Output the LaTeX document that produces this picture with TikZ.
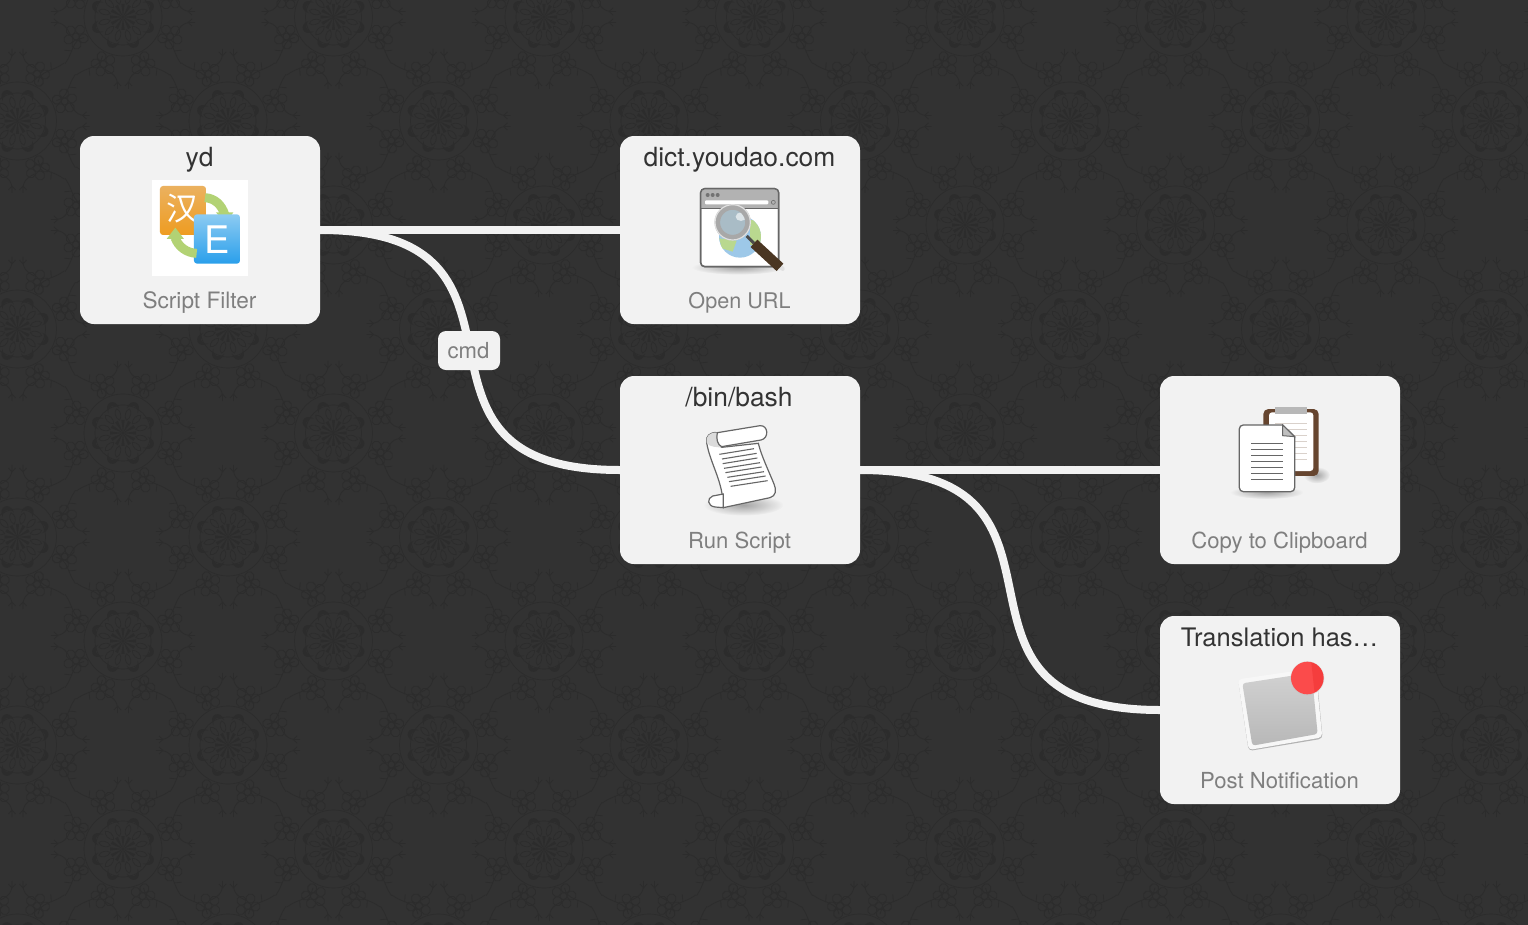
\documentclass[tikz,border=0pt]{standalone}
\usepackage{fontspec}
\setmainfont{TeX Gyre Heros}
\newfontfamily\cjkfont{Noto Sans CJK SC}
\usetikzlibrary{fadings,calc,patterns}
\definecolor{bgdark}{HTML}{323232}
\definecolor{ornament}{HTML}{2C2C2C}
\definecolor{cardfill}{HTML}{F2F2F2}
\definecolor{titletext}{HTML}{333333}
\definecolor{subtext}{HTML}{7F7F7F}
\definecolor{iconline}{HTML}{666666}
\definecolor{leafgreen}{HTML}{B2D274}
\definecolor{boardbrown}{HTML}{66452F}
\definecolor{alertred}{HTML}{FB4B4B}
\newcommand\PP[2]{\pgfpoint{#1pt}{#2pt}}
\newcommand\medalart{%
  \foreach \a in {0,30,...,330}{%
    \begin{pgfscope}\pgftransformrotate{\a}%
      \pgfpathmoveto{\PP{0}{0}}\pgfpathlineto{\PP{13}{1.6}}\pgfpathlineto{\PP{13}{-1.6}}\pgfpathclose\pgfusepath{fill}%
      \pgftransformrotate{15}\pgfsetlinewidth{0.7pt}%
      \pgfpathmoveto{\PP{13}{0}}\pgfpathcurveto{\PP{17}{4}}{\PP{23}{3}}{\PP{25}{0}}\pgfpathcurveto{\PP{23}{-3}}{\PP{17}{-4}}{\PP{13}{0}}\pgfusepath{stroke}%
    \end{pgfscope}}%
  \pgfsetlinewidth{0.7pt}%
  \pgfpathcircle{\PP{0}{0}}{28pt}\pgfusepath{stroke}%
  \pgfpathcircle{\PP{0}{0}}{39pt}\pgfusepath{stroke}%
  \pgfsetlinewidth{0.8pt}%
  \foreach \a in {22.5,67.5,...,337.5}{%
    \begin{pgfscope}\pgftransformrotate{\a}%
      \pgfpathmoveto{\PP{24}{-6}}\pgfpathcurveto{\PP{31}{-4}}{\PP{31}{4}}{\PP{24}{6}}\pgfpathcurveto{\PP{36}{7}}{\PP{36}{-7}}{\PP{24}{-6}}\pgfusepath{fill}%
      \pgftransformshift{\PP{51}{0}}%
      \pgfpathcircle{\PP{0}{0}}{3.5pt}\pgfusepath{stroke}%
      \foreach \b in {0,72,...,288}{%
        \pgfpathcircle{\pgfpointpolar{\b}{8pt}}{4.6pt}\pgfusepath{stroke}}%
    \end{pgfscope}}%
  \foreach \a in {0,90,180,270}{\foreach \sg in {1,-1}{%
    \begin{pgfscope}\pgftransformrotate{\a}\pgftransformyscale{\sg}%
      \pgfpathmoveto{\PP{53}{17}}\pgfpathcurveto{\PP{58}{7}}{\PP{62}{5}}{\PP{72}{5.5}}%
      \pgfpathmoveto{\PP{65}{5.5}}\pgfpathlineto{\PP{69}{9}}%
      \pgfpathmoveto{\PP{65}{5.5}}\pgfpathlineto{\PP{69}{2}}\pgfusepath{stroke}%
    \end{pgfscope}}}%
  \foreach \a in {45,135,225,315}{\foreach \sg in {1,-1}{%
    \begin{pgfscope}\pgftransformrotate{\a}\pgftransformyscale{\sg}%
      \pgfpathmoveto{\PP{42}{13}}\pgfpathcurveto{\PP{52}{20}}{\PP{60}{10}}{\PP{74}{8}}%
      \pgfpathmoveto{\PP{60}{12}}\pgfpathlineto{\PP{65}{18}}\pgfusepath{stroke}%
    \end{pgfscope}}}%
}
\newcommand\medalat[2]{\begin{pgfscope}\pgftransformshift{\PP{#1}{#2}}\medalart\end{pgfscope}}
\pgfdeclarepatternformonly{medalwallA}{\pgfqpoint{17.75pt}{-29pt}}{\pgfqpoint{228.25pt}{179pt}}{\pgfqpoint{210.5pt}{208pt}}{\medalat{123}{75}}
\pgfdeclarepatternformonly{medalwallB}{\pgfqpoint{-87.75pt}{75pt}}{\pgfqpoint{122.75pt}{283pt}}{\pgfqpoint{210.5pt}{208pt}}{\medalat{17.5}{179}}
\tikzset{
  card/.style={fill=cardfill,draw=none,rounded corners=14pt,minimum width=240pt,minimum height=188pt,inner sep=0pt},
  cardtitle/.style={anchor=base,text=titletext,font=\fontsize{26.4}{30}\selectfont,inner sep=0pt},
  cardsub/.style={anchor=base,text=subtext,font=\fontsize{22.1}{26}\selectfont,inner sep=0pt},
  wire/.style={draw=cardfill,line width=8pt},
  softshadow/.style={fill=black,path fading=softedge,fill opacity=0.32},
}
\tikzfading[name=softedge,inner color=transparent!0,outer color=transparent!100]
\begin{document}
\begin{tikzpicture}[x=1pt,y=-1pt]
\useasboundingbox (0,0) rectangle (1528,924);
\fill[bgdark] (-6,-6) rectangle (1534,930);
\fill[pattern=medalwallA,pattern color=ornament] (-6,-6) rectangle (1534,930);
\fill[pattern=medalwallB,pattern color=ornament] (-6,-6) rectangle (1534,930);

% cards
\node[card] (filter) at (200,230) {};
\node[card] (openurl) at (740,230) {};
\node[card] (runscript) at (740,470) {};
\node[card] (clipboard) at (1280,470) {};
\node[card] (notify) at (1280,710) {};

% connectors
\draw[wire] (filter.east) -- (openurl.west);
\draw[wire] (filter.east) .. controls +(250,0) and +(-250,0) .. (runscript.west);
\draw[wire] (runscript.east) -- (clipboard.west);
\draw[wire] (runscript.east) .. controls +(250,0) and +(-250,0) .. (notify.west);
\node[fill=cardfill,rounded corners=8pt,minimum width=62pt,minimum height=39pt,inner sep=0pt] (cmdbox) at (469,350.5) {};
\node[cardsub] (cmdlabel) at (468.5,358.5) {cmd};

% texts
\node[cardtitle] (t1) at (199.5,166.5) {yd};
\node[cardsub,font=\fontsize{22.6}{26}\selectfont] (s1) at (199.5,308.5) {Script Filter};
\node[cardtitle] (t2) at (739.5,166.5) {dict.youdao.com};
\node[cardsub,font=\fontsize{21.6}{26}\selectfont] (s2) at (739.5,308.5) {Open URL};
\node[cardtitle] (t3) at (739,406.5) {/bin/bash};
\node[cardsub] (s3) at (739.5,548.5) {Run Script};
\node[cardsub] (s4) at (1279.5,548.5) {Copy to Clipboard};
\node[cardtitle,font=\fontsize{25.5}{30}\selectfont] (t5) at (1279.5,646.5) {Translation has…};
\node[cardsub] (s5) at (1279.5,788.5) {Post Notification};

% icon: translate
\fill[white] (152,180) rectangle (248,276);
\begin{scope}[shift={(70,125)},x=0.3333pt,y=-0.3333pt]
  \definecolor{orangetop}{HTML}{EBB15F}\definecolor{orangebot}{HTML}{EE9C21}
  \definecolor{bluetop}{HTML}{8CCBF2}\definecolor{bluebot}{HTML}{2A9FEB}
  \shade[top color=orangetop,bottom color=orangebot,rounded corners=3pt] (270,183) rectangle (408,330);
  \draw[leafgreen,line width=9pt] (405,218) .. controls (435,220) and (455,240) .. (464,268);
  \fill[leafgreen] (438,262) -- (490,262) -- (466,297) -- cycle;
  \node[text=white,font=\cjkfont\fontsize{32}{32}\selectfont,inner sep=0pt] (hanzi) at (338,252) {汉};
  \shade[top color=bluetop,bottom color=bluebot,rounded corners=3pt] (372,268) rectangle (510,416);
  \draw[leafgreen,line width=9pt] (380,385) .. controls (350,384) and (325,365) .. (315,338);
  \fill[leafgreen] (290,342) -- (342,342) -- (316,308) -- cycle;
  \node[text=white,font=\fontsize{38}{38}\selectfont,inner sep=0pt] (letterE) at (442,344) {E};
\end{scope}

% icon: browser
\begin{scope}[shift={(640,170)},x=0.3333pt,y=-0.3333pt]
  \definecolor{globeblue}{HTML}{9DC8E8}\definecolor{globegreen}{HTML}{B9D88F}
  \definecolor{handledark}{HTML}{4A3622}\definecolor{lensblue}{HTML}{A9BCC6}
  \fill[softshadow] (295,292) ellipse (140 and 22);
  \fill[white,draw=iconline,line width=1.4pt,rounded corners=4pt] (182,56) rectangle (416,290);
  \begin{scope}
    \clip[rounded corners=4pt] (182,56) rectangle (416,290);
    \fill[black!30] (182,56) rectangle (416,115);
    \draw[iconline,line width=1.2pt] (182,116) -- (416,116);
  \end{scope}
  \draw[iconline,line width=1.4pt,rounded corners=4pt] (182,56) rectangle (416,290);
  \fill[black!55] (203,75) circle (6) (218,75) circle (6) (233,75) circle (6);
  \fill[white,rounded corners=1pt] (195,91) rectangle (385,103);
  \draw[black!55,line width=0.7pt] (400,97) circle (6);
  \fill[globeblue] (300,200) circle (63);
  \begin{scope}
    \clip (300,200) circle (63);
    \fill[globegreen] (330,150) rectangle (365,225);
    \fill[globegreen] (238,205) -- (290,212) -- (278,245) -- (245,235) -- cycle;
  \end{scope}
  \draw[line cap=round,draw=black!12,line width=4pt] (414,282) -- (428,297);
  \draw[black!70,line width=3pt] (320,198) -- (342,220);
  \draw[line cap=butt,draw=handledark,line width=10pt] (342,220) -- (420,292);
  \fill[lensblue] (278,157) circle (42);
  \fill[white,opacity=0.6] (303,140) ellipse (16 and 13);
  \draw[black!34,line width=5.5pt] (278,157) circle (46);
  \draw[black!12,line width=1.2pt] (278,157) circle (53);
\end{scope}

% icon: scroll
\begin{scope}[shift={(660,410)},x=0.3333pt,y=-0.3333pt]
  \fill[softshadow] (250,285) ellipse (120 and 32);
  \fill[white,draw=iconline,line width=1.2pt] (140,98) .. controls (150,160) and (190,215) .. (190,293) -- (330,263) .. controls (348,258) and (350,240) .. (342,222) .. controls (325,180) and (305,140) .. (295,100) -- (185,112) .. controls (175,108) and (170,85) .. (172,68) .. controls (150,65) and (135,80) .. (140,98) -- cycle;
  \fill[black!14] (172,68) .. controls (150,65) and (135,80) .. (140,98) .. controls (145,112) and (178,112) .. (185,112) .. controls (175,108) and (170,85) .. (172,68) -- cycle;
  \fill[white,draw=iconline,line width=1.2pt] (172,68) -- (300,47) .. controls (325,45) and (328,85) .. (303,90) -- (185,110) .. controls (172,105) and (168,85) .. (172,68) -- cycle;
  \fill[white,draw=iconline,line width=1.2pt] (190,252) -- (158,258) .. controls (140,265) and (142,288) .. (165,291) -- (190,293) .. controls (190,280) and (190,265) .. (190,252) -- cycle;
  \foreach \k/\ya/\xa/\xb in {0/133/178/282,1/147/186/290,2/161/188/292,3/175/192/300,4/188/196/305,5/202/202/312,6/215/207/317,7/229/212/323}{
    \draw[iconline,line width=1.1pt] (\xa,\ya) -- (\xb,\ya-17);
  }
\end{scope}

% icon: clipboard
\begin{scope}[shift={(1210,395)},x=0.3333pt,y=-0.3333pt]
  \fill[softshadow] (170,292) ellipse (110 and 20);
  \fill[softshadow] (320,240) ellipse (40 and 25);
  \fill[boardbrown,rounded corners=5pt] (160,42) rectangle (326,243);
  \fill[white,rounded corners=3pt] (177,52) rectangle (310,228);
  \fill[black!28] (196,36) rectangle (291,58);
  \foreach \yy in {85,103,...,193}{
    \draw[boardbrown!25,line width=1.1pt] (196,\yy) -- (290,\yy);
  }
  \fill[white,draw=iconline,line width=1.3pt] (218,90) -- (100,90) .. controls (93,90) and (88,95) .. (88,102) -- (88,278) .. controls (88,285) and (93,290) .. (100,290) -- (242,290) .. controls (249,290) and (254,285) .. (254,278) -- (254,125) -- cycle;
  \fill[black!25,draw=iconline,line width=1pt] (218,90) -- (218,122) -- (254,125) -- cycle;
  \foreach \yy in {145,163,...,253}{
    \draw[iconline,line width=1.3pt] (124,\yy) -- (218,\yy);
  }
\end{scope}

% icon: notification
\begin{scope}[shift={(1210,650)},x=0.3333pt,y=-0.3333pt]
  \fill[black!30,rounded corners=4pt] (85,92) -- (318,58) -- (338,266) -- (116,303) -- cycle;
  \fill[black!3,rounded corners=4pt] (84,88) -- (316,54) -- (337,262) -- (116,300) -- cycle;
  \shade[top color=black!18,bottom color=black!28,rounded corners=3pt] (97,100) -- (305,68) -- (323,252) -- (127,287) -- cycle;
  \fill[black!25,opacity=0.35] (292,85) circle (51);
  \fill[alertred] (292,84) circle (49);
  \begin{scope}
    \clip (292,84) circle (49);
    \fill[red!85!black!80!alertred,opacity=0.22] (303,30) -- (345,30) -- (345,140) -- (315,140) -- cycle;
  \end{scope}
\end{scope}
\end{tikzpicture}
\end{document}
